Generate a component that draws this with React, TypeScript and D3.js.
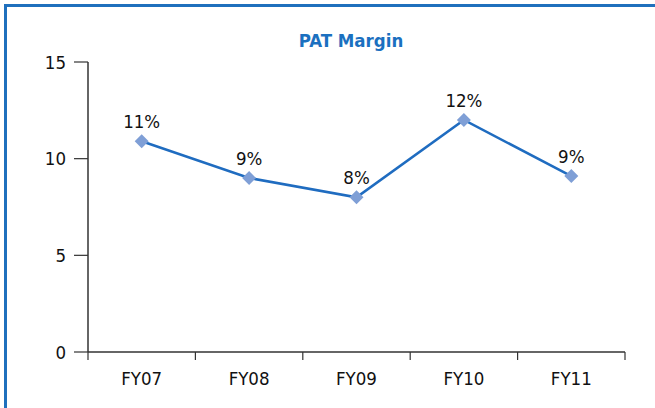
import React from "react";
import * as d3 from "d3";

const categories = ["FY07", "FY08", "FY09", "FY10", "FY11"];
const values = [10.9, 9.0, 8.0, 12.0, 9.1];
const labels = ["11%", "9%", "8%", "12%", "9%"];
const yTicks = [0, 5, 10, 15];

const W = 655;
const H = 408;
const M = { left: 88, right: 30, top: 62, bottom: 56 };
const FONT = "'DejaVu Sans Condensed', 'DejaVu Sans', sans-serif";

export default function App() {
  const x = d3
    .scaleBand<string>()
    .domain(categories)
    .range([M.left, W - M.right])
    .padding(0);
  const y = d3
    .scaleLinear()
    .domain([0, 15])
    .range([H - M.bottom, M.top]);

  const line = d3
    .line<number>()
    .x((_, i) => (x(categories[i]) as number) + x.bandwidth() / 2)
    .y((d) => y(d));

  const diamond = d3.symbol().type(d3.symbolDiamond2).size(125)();
  const y0 = y(0);
  const boundaries = [...categories.map((c) => x(c) as number), W - M.right];

  return (
    <svg
      width={W}
      height={H}
      style={{ position: "absolute", left: 0, top: 0, background: "#fff" }}
    >
      <path d={`M5.5,${H + 5} L5.5,5.5 L${W + 5},5.5`} fill="none" stroke="#1f70bd" strokeWidth={3} />
      <text
        x={351}
        y={47}
        textAnchor="middle"
        fontFamily={FONT}
        fontWeight="bold"
        fontSize={18.5}
        fill="#1b70c0"
      >
        PAT Margin
      </text>
      {/* y axis */}
      <line x1={M.left} x2={M.left} y1={y(15)} y2={y0} stroke="#333" strokeWidth={1.5} />
      {yTicks.map((t) => (
        <g key={t}>
          <line x1={M.left - 14} x2={M.left} y1={y(t)} y2={y(t)} stroke="#333" strokeWidth={1.2} />
          <text
            x={M.left - 22}
            y={y(t)}
            dy="0.36em"
            textAnchor="end"
            fontFamily={FONT}
            fontSize={18.5}
            fill="#111"
          >
            {t}
          </text>
        </g>
      ))}
      {/* x axis */}
      <line x1={M.left} x2={W - M.right} y1={y0} y2={y0} stroke="#333" strokeWidth={1.5} />
      {boundaries.map((b, i) => (
        <line key={i} x1={b} x2={b} y1={y0} y2={y0 + 8} stroke="#333" strokeWidth={1.2} />
      ))}
      {categories.map((c) => (
        <text
          key={c}
          x={(x(c) as number) + x.bandwidth() / 2}
          y={y0 + 33}
          textAnchor="middle"
          fontFamily={FONT}
          fontSize={18.5}
          fill="#111"
        >
          {c}
        </text>
      ))}
      <path d={line(values) || ""} fill="none" stroke="#1f6cc0" strokeWidth={2.5} />
      {values.map((v, i) => {
        const cx = (x(categories[i]) as number) + x.bandwidth() / 2;
        return (
          <g key={i}>
            <path d={diamond || ""} transform={`translate(${cx},${y(v)})`} fill="#7f9fd6" />
            <text
              x={cx}
              y={y(v) - 13}
              textAnchor="middle"
              fontFamily={FONT}
              fontSize={18.5}
              fill="#111"
            >
              {labels[i]}
            </text>
          </g>
        );
      })}
    </svg>
  );
}
